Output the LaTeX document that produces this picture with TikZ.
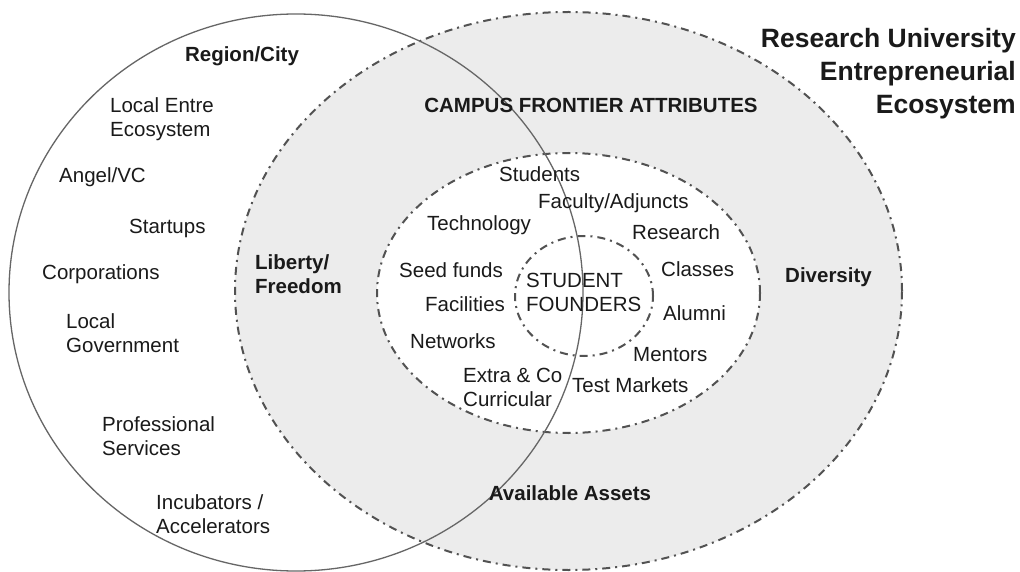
\documentclass[tikz,border=0pt]{standalone}
\usepackage{fontspec}
\setmainfont{Liberation Sans}
\definecolor{ecogray}{RGB}{236,236,236}
\definecolor{inkgray}{RGB}{26,26,26}
\begin{document}
\begin{tikzpicture}[x=1pt,y=-1pt,
  lbl/.style={inner sep=0pt, anchor=west, align=left, text=inkgray,
              font=\fontsize{20.5}{24}\selectfont},
  hdr/.style={lbl, font=\fontsize{20.5}{24}\selectfont\bfseries},
  ring/.style={draw=black!68, line width=2pt,
               dash pattern=on 8pt off 5pt on 2pt off 5pt},
  region/.style={draw=black!60, line width=1.3pt},
]
\useasboundingbox (0,0) rectangle (1020,572);
\fill[white] (0,0) rectangle (1020,572);

% campus frontier (outer), campus assets (middle), founders (inner)
\path[ring, fill=ecogray] (568.5,291) ellipse [x radius=333.5pt, y radius=279pt];
\path[ring, fill=white] (568.5,293) ellipse [x radius=191.5pt, y radius=140pt];
\path[ring, fill=white] (584,296) ellipse [x radius=69pt, y radius=60pt];

% region / city boundary
\draw[region] (296,292.5) ellipse [x radius=287pt, y radius=278.5pt];

% title
\node[hdr, anchor=east, align=right, font=\fontsize{26.5}{33}\selectfont\bfseries]
  (title) at (1016,74) {Research University\\Entrepreneurial\\Ecosystem};

% region / city entries
\node[hdr, anchor=center] (region) at (242,56) {Region/City};
\node[lbl] (localentre) at (110,119) {Local Entre\\Ecosystem};
\node[lbl] (angel) at (59,177) {Angel/VC};
\node[lbl] (startups) at (129,228) {Startups};
\node[lbl] (corporations) at (42,274) {Corporations};
\node[lbl] (localgov) at (66,333) {Local\\Government};
\node[lbl] (professional) at (102,436) {Professional\\Services};
\node[lbl] (incubators) at (156,514) {Incubators /\\Accelerators};

% campus frontier attributes
\node[hdr, anchor=center] (campus) at (591,105) {CAMPUS FRONTIER ATTRIBUTES};
\node[hdr] (liberty) at (255,274) {Liberty/\\Freedom};
\node[hdr] (diversity) at (785,277) {Diversity};
\node[hdr, anchor=center] (available) at (570,493) {Available Assets};

% campus assets
\node[lbl] (students) at (499,174) {Students};
\node[lbl] (faculty) at (538,203) {Faculty/Adjuncts};
\node[lbl] (technology) at (427,225) {Technology};
\node[lbl] (research) at (632,232) {Research};
\node[lbl] (seedfunds) at (399,270) {Seed funds};
\node[lbl] (classes) at (661,269) {Classes};
\node[lbl] (facilities) at (425,304) {Facilities};
\node[lbl] (alumni) at (663,313) {Alumni};
\node[lbl] (networks) at (410,341) {Networks};
\node[lbl] (mentors) at (633,355) {Mentors};
\node[lbl] (extra) at (463,387) {Extra \& Co\\Curricular};
\node[lbl] (testmarkets) at (572,385) {Test Markets};

% core
\node[lbl] (founders) at (526,292.5) {STUDENT\\FOUNDERS};
\end{tikzpicture}
\end{document}
